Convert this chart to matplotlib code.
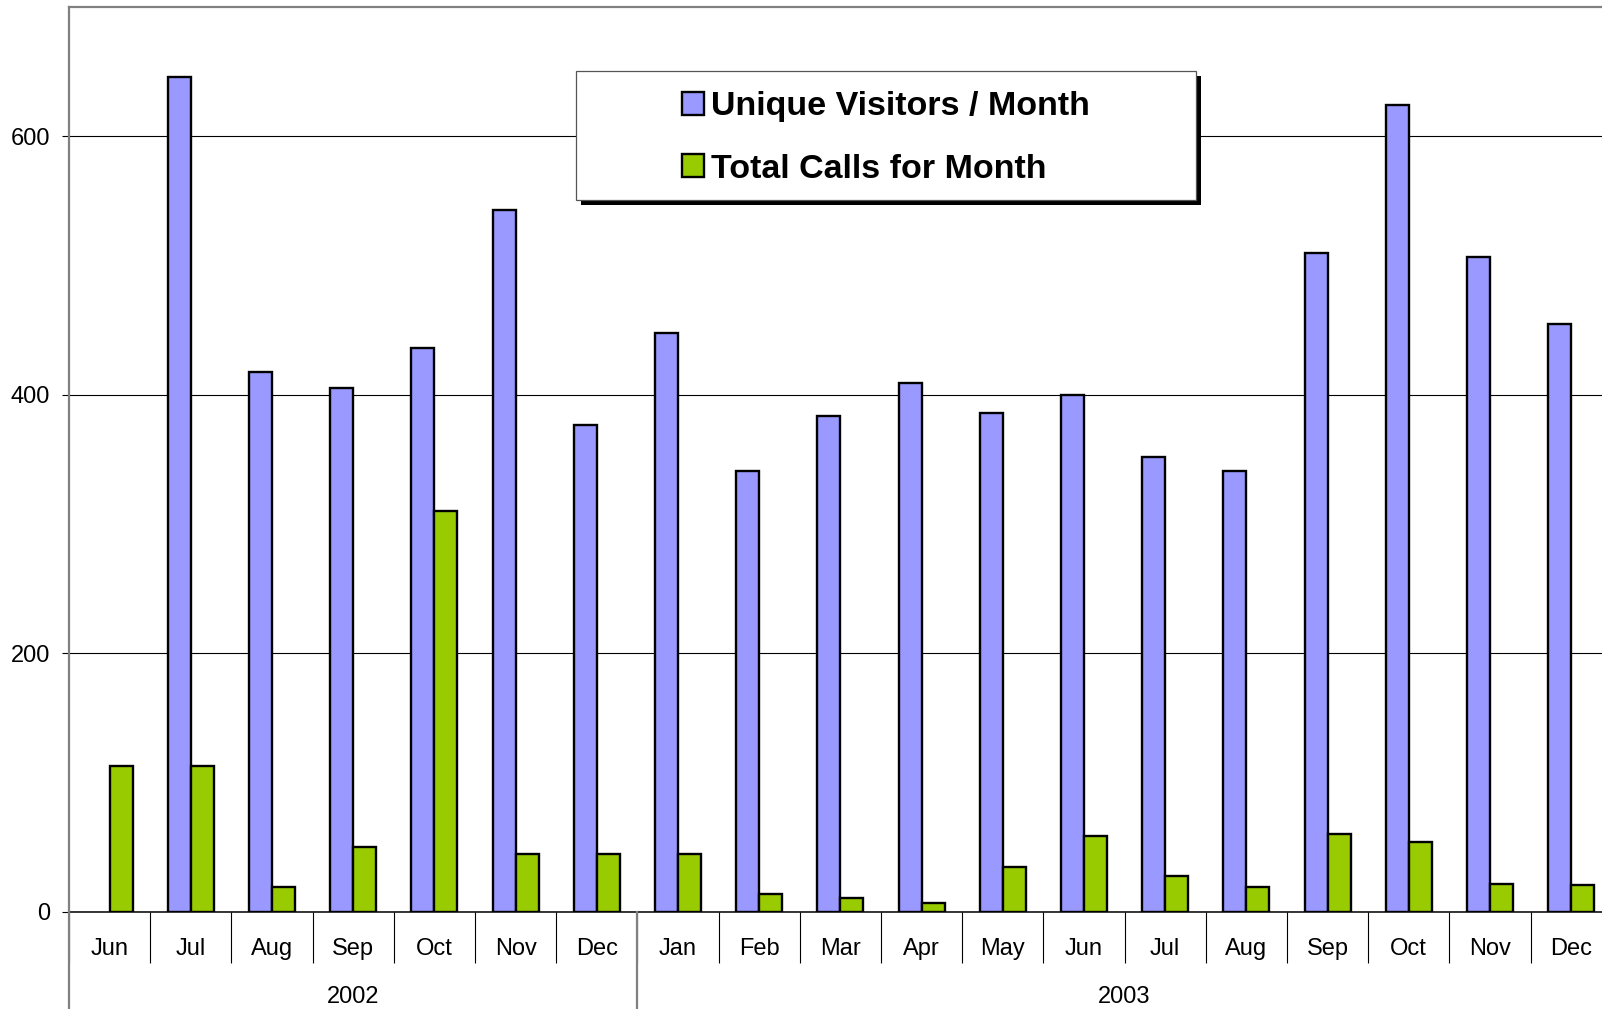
import matplotlib
matplotlib.use("Agg")
import matplotlib.pyplot as plt
import matplotlib.transforms as mtransforms
from matplotlib.patches import Rectangle
import numpy as np

plt.rcParams['font.family'] = ['Liberation Sans', 'DejaVu Sans']

# ---- data ----
months = ["Jun", "Jul", "Aug", "Sep", "Oct", "Nov", "Dec",
          "Jan", "Feb", "Mar", "Apr", "May", "Jun", "Jul", "Aug", "Sep", "Oct", "Nov", "Dec"]
years = ["2002", "2003"]
year_counts = [7, 12]
visitors = [np.nan, 646, 418, 405, 436, 543, 377,
            448, 341, 384, 409, 386, 400, 352, 341, 510, 624, 507, 455]
calls = [113, 113, 19, 50, 310, 45, 45,
         45, 14, 11, 7, 35, 59, 28, 19, 60, 54, 22, 21]
series_names = ["Unique Visitors / Month", "Total Calls for Month"]
yticks = [0, 200, 400, 600]

BLUE = "#9999FF"
GREEN = "#99CC00"

W, H = 1602, 1009
fig = plt.figure(figsize=(W / 100, H / 100), dpi=100)
ax_left = 69 / W
ax_bottom = 1 - 912 / H
ax_w = (19 * 81.2) / W
ax_h = 905 / H
ax = fig.add_axes([ax_left, ax_bottom, ax_w, ax_h])

x = np.arange(len(months))
bw = 0.283
b1 = ax.bar(x - bw / 2, visitors, width=bw, color=BLUE, edgecolor="black",
            linewidth=1.7, label=series_names[0], zorder=3)
b2 = ax.bar(x + bw / 2, calls, width=bw, color=GREEN, edgecolor="black",
            linewidth=1.7, label=series_names[1], zorder=3)

ax.set_xlim(-0.5, len(months) - 0.5)
ax.set_ylim(0, 700)

# y axis
ax.set_yticks(yticks)
ax.set_yticklabels([str(v) for v in yticks])
ax.tick_params(axis="y", which="major", direction="out", length=5, width=0.8,
               color="black", pad=8.6, labelsize=17)
ax.yaxis.grid(True, color="black", linewidth=0.8, zorder=1)
ax.set_axisbelow(True)

# x axis: month labels at centers, separators at boundaries
ax.set_xticks(x)
ax.set_xticklabels(months)
ax.set_xticks(np.arange(-0.5, len(months), 1.0), minor=True)
ax.tick_params(axis="x", which="major", length=0, pad=18.7, labelsize=17)
ax.tick_params(axis="x", which="minor", direction="out", length=36.7, width=0.8,
               color="black")

# spines
for s in ["left", "top"]:
    ax.spines[s].set_color("#808080")
    ax.spines[s].set_linewidth(1.6)
ax.spines["right"].set_visible(False)
ax.spines["bottom"].set_color("black")
ax.spines["bottom"].set_linewidth(1.1)

# year level separators and labels
blend = mtransforms.blended_transform_factory(ax.transData, ax.transAxes)
bounds = np.concatenate([[0], np.cumsum(year_counts)]) - 0.5
for b in bounds[:-1]:
    ax.plot([b, b], [0, -0.12], transform=blend, color="#808080",
            linewidth=1.6, clip_on=False, zorder=5)
for i, yr in enumerate(years):
    cx = (bounds[i] + bounds[i + 1]) / 2
    ax.text(cx, (912 - 1002.7) / 905, yr, transform=blend, ha="center",
            va="baseline", fontsize=17)

# legend
lx0 = (576 - 69) / 1543
lx1 = (1195.7 - 69) / 1543
ly0 = (912 - 200) / 905
ly1 = (912 - 71) / 905
shadow_tr = ax.transAxes + mtransforms.ScaledTranslation(5 / 100, -5 / 100, fig.dpi_scale_trans)
ax.add_patch(Rectangle((lx0, ly0), lx1 - lx0, ly1 - ly0, transform=shadow_tr,
                       facecolor="black", edgecolor="black", linewidth=0, zorder=6,
                       clip_on=False))
ax.add_patch(Rectangle((lx0, ly0), lx1 - lx0, ly1 - ly0, transform=ax.transAxes,
                       facecolor="white", edgecolor="#555555", linewidth=0.9, zorder=7,
                       clip_on=False))
leg = ax.legend(handles=[b1, b2], loc="center left",
                bbox_to_anchor=((682 - 69) / 1543, (912 - 138) / 905),
                frameon=False, borderpad=0, borderaxespad=0,
                handlelength=0.64, handleheight=0.66, handletextpad=0.22,
                labelspacing=0.93,
                prop={"family": "Liberation Sans", "weight": "bold", "size": 24.5})
leg.set_zorder(8)

fig.savefig("out.png", dpi=100)
